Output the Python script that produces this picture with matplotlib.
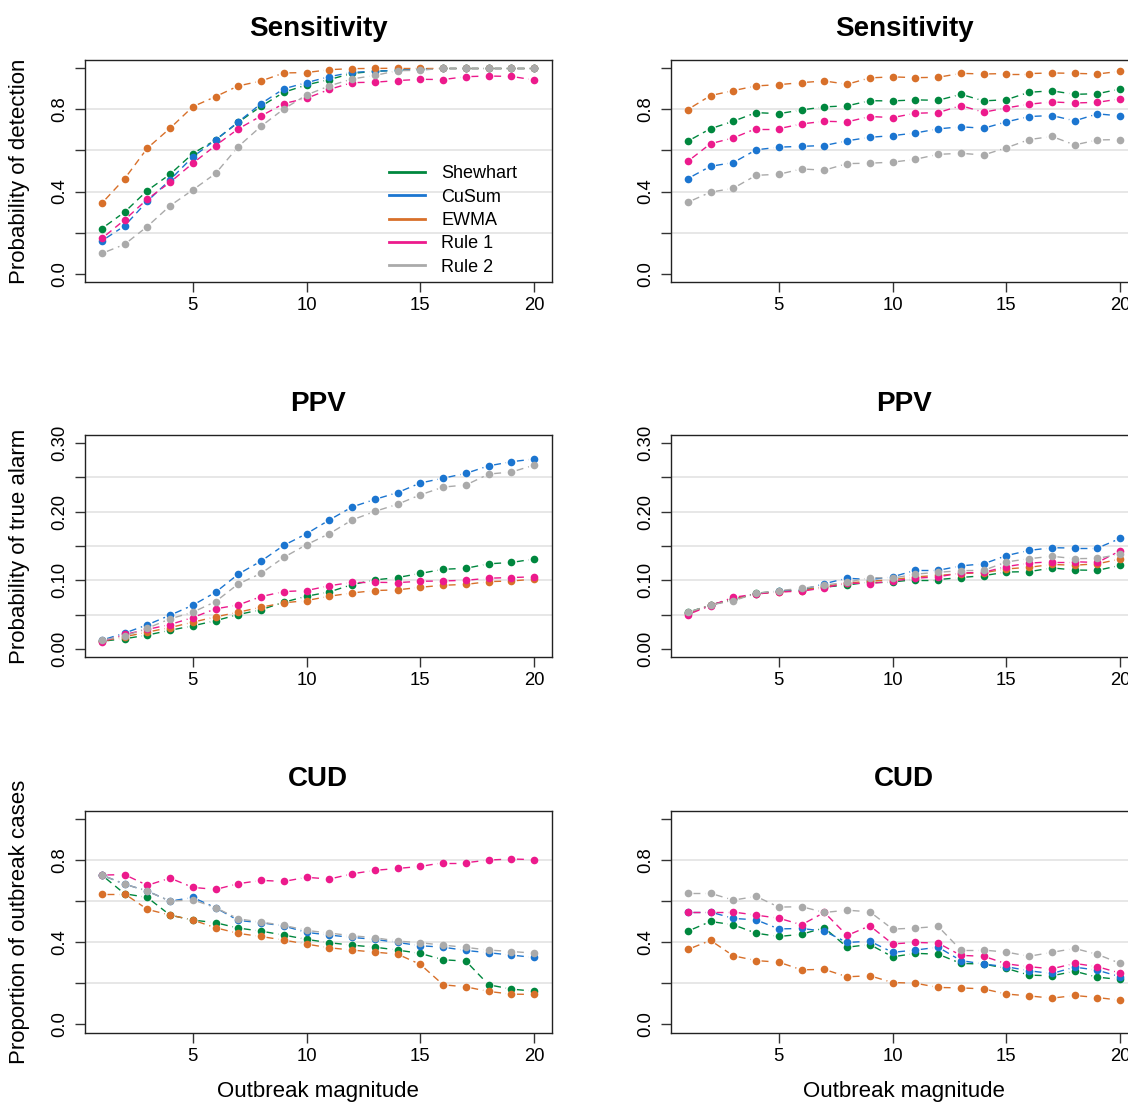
import matplotlib
matplotlib.use('Agg')
import matplotlib.pyplot as plt
from matplotlib.lines import Line2D
import numpy as np

plt.rcParams['font.family'] = ['Liberation Sans', 'DejaVu Sans']

# 数据
x = list(range(1, 21))
methods = ['Shewhart', 'CuSum', 'EWMA', 'Rule 1', 'Rule 2']
colors = ['#00873E', '#1B75D0', '#D8702A', '#EC1A8C', '#AAAAAA']

# Sensitivity (左)
sens_l_shewhart = [0.22, 0.30, 0.405, 0.484, 0.585, 0.651, 0.737, 0.815, 0.883, 0.919, 0.945, 0.975, 0.985, 0.99, 0.995, 1.0, 1.0, 1.0, 1.0, 1.0]
sens_l_cusum = [0.16, 0.233, 0.353, 0.457, 0.569, 0.651, 0.739, 0.828, 0.90, 0.93, 0.959, 0.98, 0.985, 0.99, 0.995, 1.0, 1.0, 1.0, 1.0, 1.0]
sens_l_ewma = [0.343, 0.462, 0.611, 0.708, 0.813, 0.862, 0.914, 0.938, 0.977, 0.979, 0.993, 0.998, 0.999, 1.0, 1.0, 1.0, 1.0, 1.0, 1.0, 1.0]
sens_l_rule1 = [0.172, 0.262, 0.363, 0.445, 0.538, 0.624, 0.705, 0.768, 0.828, 0.854, 0.897, 0.93, 0.932, 0.94, 0.946, 0.945, 0.959, 0.962, 0.96, 0.943]
sens_l_rule2 = [0.099, 0.143, 0.23, 0.331, 0.408, 0.488, 0.619, 0.718, 0.802, 0.87, 0.914, 0.948, 0.965, 0.988, 0.99, 1.0, 1.0, 1.0, 1.0, 1.0]

# Sensitivity (右)
sens_r_shewhart = [0.645, 0.706, 0.742, 0.784, 0.779, 0.797, 0.812, 0.817, 0.842, 0.841, 0.846, 0.844, 0.873, 0.841, 0.847, 0.883, 0.89, 0.873, 0.876, 0.899]
sens_r_cusum = [0.463, 0.523, 0.541, 0.603, 0.616, 0.62, 0.624, 0.647, 0.664, 0.672, 0.685, 0.705, 0.715, 0.708, 0.739, 0.765, 0.77, 0.744, 0.778, 0.768]
sens_r_ewma = [0.799, 0.867, 0.891, 0.914, 0.92, 0.93, 0.938, 0.922, 0.953, 0.958, 0.954, 0.956, 0.975, 0.972, 0.974, 0.974, 0.977, 0.975, 0.972, 0.985]
sens_r_rule1 = [0.547, 0.633, 0.661, 0.706, 0.706, 0.729, 0.742, 0.739, 0.765, 0.76, 0.781, 0.784, 0.818, 0.786, 0.807, 0.825, 0.836, 0.831, 0.834, 0.851]
sens_r_rule2 = [0.348, 0.397, 0.416, 0.479, 0.484, 0.51, 0.504, 0.536, 0.538, 0.543, 0.557, 0.581, 0.586, 0.578, 0.613, 0.653, 0.668, 0.627, 0.651, 0.653]

# PPV (左)
ppv_l_shewhart = [0.011, 0.0146, 0.020, 0.027, 0.0335, 0.041, 0.050, 0.057, 0.068, 0.0767, 0.083, 0.0937, 0.1005, 0.104, 0.110, 0.116, 0.1175, 0.124, 0.126, 0.131]
ppv_l_cusum = [0.0126, 0.0228, 0.035, 0.049, 0.0636, 0.0825, 0.109, 0.128, 0.151, 0.168, 0.188, 0.207, 0.218, 0.228, 0.242, 0.249, 0.256, 0.267, 0.273, 0.277]
ppv_l_ewma = [0.011, 0.0175, 0.0243, 0.031, 0.0388, 0.0466, 0.0534, 0.0607, 0.067, 0.0704, 0.0767, 0.0815, 0.085, 0.086, 0.0898, 0.0927, 0.094, 0.098, 0.099, 0.1015]
ppv_l_rule1 = [0.0102, 0.0209, 0.0282, 0.0354, 0.0456, 0.0583, 0.064, 0.0762, 0.0835, 0.085, 0.092, 0.097, 0.097, 0.0966, 0.0985, 0.099, 0.100, 0.103, 0.104, 0.105]
ppv_l_rule2 = [0.0126, 0.0184, 0.030, 0.0437, 0.0534, 0.0689, 0.0947, 0.110, 0.1335, 0.152, 0.168, 0.188, 0.2005, 0.211, 0.2247, 0.236, 0.239, 0.255, 0.258, 0.268]

# PPV (右)
ppv_r_shewhart = [0.053, 0.064, 0.072, 0.081, 0.084, 0.086, 0.090, 0.093, 0.0975, 0.0975, 0.101, 0.101, 0.104, 0.1067, 0.112, 0.1126, 0.118, 0.115, 0.1145, 0.1217]
ppv_r_cusum = [0.052, 0.064, 0.072, 0.080, 0.084, 0.086, 0.095, 0.103, 0.101, 0.105, 0.1145, 0.1145, 0.121, 0.124, 0.136, 0.1436, 0.1475, 0.147, 0.147, 0.161]
ppv_r_ewma = [0.052, 0.064, 0.072, 0.080, 0.083, 0.085, 0.091, 0.096, 0.0985, 0.101, 0.105, 0.107, 0.1097, 0.111, 0.1165, 0.119, 0.123, 0.122, 0.124, 0.131]
ppv_r_rule1 = [0.050, 0.063, 0.075, 0.080, 0.083, 0.084, 0.089, 0.096, 0.095, 0.099, 0.103, 0.105, 0.1107, 0.1116, 0.120, 0.125, 0.127, 0.127, 0.126, 0.143]
ppv_r_rule2 = [0.053, 0.064, 0.070, 0.081, 0.085, 0.088, 0.093, 0.097, 0.104, 0.103, 0.109, 0.1116, 0.114, 0.1145, 0.1267, 0.1315, 0.135, 0.1315, 0.132, 0.138]

# CUD (左)
cud_l_shewhart = [0.727, 0.636, 0.618, 0.532, 0.508, 0.495, 0.469, 0.454, 0.435, 0.414, 0.3976, 0.386, 0.376, 0.362, 0.3456, 0.315, 0.308, 0.193, 0.172, 0.162]
cud_l_cusum = [0.727, 0.683, 0.649, 0.600, 0.618, 0.568, 0.506, 0.495, 0.479, 0.448, 0.435, 0.4235, 0.414, 0.399, 0.383, 0.376, 0.360, 0.349, 0.3375, 0.326]
cud_l_ewma = [0.636, 0.636, 0.560, 0.532, 0.508, 0.4706, 0.443, 0.428, 0.4105, 0.391, 0.373, 0.362, 0.352, 0.342, 0.292, 0.193, 0.183, 0.1606, 0.1477, 0.146]
cud_l_rule1 = [0.727, 0.729, 0.677, 0.712, 0.667, 0.657, 0.685, 0.701, 0.696, 0.716, 0.7075, 0.733, 0.750, 0.759, 0.769, 0.787, 0.787, 0.800, 0.805, 0.802]
cud_l_rule2 = [0.727, 0.683, 0.649, 0.600, 0.607, 0.568, 0.514, 0.498, 0.482, 0.4576, 0.4446, 0.4316, 0.422, 0.4057, 0.3976, 0.386, 0.375, 0.362, 0.355, 0.347]

# CUD (右)
cud_r_shewhart = [0.454, 0.501, 0.485, 0.444, 0.428, 0.439, 0.470, 0.376, 0.389, 0.329, 0.346, 0.342, 0.297, 0.294, 0.273, 0.240, 0.237, 0.259, 0.230, 0.219]
cud_r_cusum = [0.547, 0.547, 0.516, 0.509, 0.465, 0.467, 0.454, 0.399, 0.405, 0.351, 0.362, 0.376, 0.311, 0.294, 0.281, 0.261, 0.248, 0.279, 0.264, 0.232]
cud_r_ewma = [0.365, 0.409, 0.334, 0.311, 0.303, 0.266, 0.268, 0.232, 0.237, 0.204, 0.201, 0.180, 0.178, 0.173, 0.148, 0.139, 0.128, 0.141, 0.131, 0.118]
cud_r_rule1 = [0.547, 0.547, 0.547, 0.532, 0.517, 0.485, 0.545, 0.433, 0.480, 0.392, 0.399, 0.396, 0.336, 0.332, 0.295, 0.281, 0.271, 0.297, 0.281, 0.250]
cud_r_rule2 = [0.638, 0.638, 0.605, 0.623, 0.571, 0.573, 0.545, 0.556, 0.548, 0.464, 0.469, 0.477, 0.362, 0.362, 0.352, 0.332, 0.351, 0.370, 0.341, 0.297]

panels = [
    ('Sensitivity', [sens_l_shewhart, sens_l_cusum, sens_l_ewma, sens_l_rule1, sens_l_rule2],
     [sens_r_shewhart, sens_r_cusum, sens_r_ewma, sens_r_rule1, sens_r_rule2],
     'Probability of detection', 1.0, 0.2, ['0.0', '', '0.4', '', '0.8', '']),
    ('PPV', [ppv_l_shewhart, ppv_l_cusum, ppv_l_ewma, ppv_l_rule1, ppv_l_rule2],
     [ppv_r_shewhart, ppv_r_cusum, ppv_r_ewma, ppv_r_rule1, ppv_r_rule2],
     'Probability of true alarm', 0.3, 0.05, ['0.00', '', '0.10', '', '0.20', '', '0.30']),
    ('CUD', [cud_l_shewhart, cud_l_cusum, cud_l_ewma, cud_l_rule1, cud_l_rule2],
     [cud_r_shewhart, cud_r_cusum, cud_r_ewma, cud_r_rule1, cud_r_rule2],
     'Proportion of outbreak cases', 1.0, 0.2, ['0.0', '', '0.4', '', '0.8', '']),
]

W, H = 1128, 1102
fig = plt.figure(figsize=(W / 100, H / 100), dpi=100)

left_x = [84.5, 670.5]
box_w = 467
tops = [60, 435, 810.7]
box_h = 222
gap = 5.5  # 点两侧的空隙 (像素), 类似 R 的 type="b"


def plot_b(ax, xs, ys, col, z):
    # 连线在点附近留空, 然后画点
    pts = ax.transData.transform(np.column_stack([xs, ys]))
    inv = ax.transData.inverted()
    for i in range(len(pts) - 1):
        p0, p1 = pts[i], pts[i + 1]
        d = p1 - p0
        L = np.hypot(*d)
        if L <= 2 * gap:
            continue
        u = d / L
        seg = inv.transform(np.array([p0 + u * gap, p1 - u * gap]))
        ax.plot(seg[:, 0], seg[:, 1], color=col, lw=1.0, ls=(0, (5, 3.5)), zorder=z)
    ax.plot(xs, ys, ls='none', marker='o', ms=5.5, mew=0, color=col, zorder=z)


for r, (title, left_data, right_data, ylab, ymax, ystep, ylabels) in enumerate(panels):
    for c, data in enumerate([left_data, right_data]):
        ax = fig.add_axes([left_x[c] / W, 1 - (tops[r] + box_h) / H, box_w / W, box_h / H])
        ax.set_xlim(0.24, 20.76)
        ax.set_ylim(-0.04 * ymax, 1.04 * ymax)
        ticks = np.arange(0, ymax + ystep / 2, ystep)
        for t in ticks[1:-1]:
            ax.axhline(t, color='#E5E5E5', lw=1.3, zorder=0)
        for k in range(len(methods)):
            plot_b(ax, x, data[k], colors[k], 2 + k)
        ax.set_xticks([5, 10, 15, 20])
        ax.set_yticks(ticks)
        ax.set_yticklabels(ylabels, rotation=90, va='center')
        ax.tick_params(length=7, width=1, labelsize=13.3, color='#333333')
        ax.tick_params(axis='x', pad=4)
        ax.tick_params(axis='y', pad=4.5)
        for s in ax.spines.values():
            s.set_linewidth(1.0)
            s.set_color('#222222')
        ax.set_title(title, fontsize=20, fontweight='bold', pad=17.5)
        if c == 0:
            fig.text(20 / W, 1 - (tops[r] + box_h / 2) / H, ylab, rotation=90,
                     ha='center', va='center', fontsize=16)
        if r == 2:
            fig.text((left_x[c] + box_w / 2) / W, 1 - 1091 / H, 'Outbreak magnitude',
                     ha='center', va='center', fontsize=16)
        if r == 0 and c == 0:
            handles = [Line2D([0], [0], color=col, lw=2) for col in colors]
            ax.legend(handles, methods, loc='upper left', bbox_to_anchor=(0.652, 0.525),
                      frameon=False, fontsize=13, handlelength=2.0, handletextpad=0.9,
                      labelspacing=0.35, borderpad=0, borderaxespad=0)

fig.savefig('out.png', dpi=100)
